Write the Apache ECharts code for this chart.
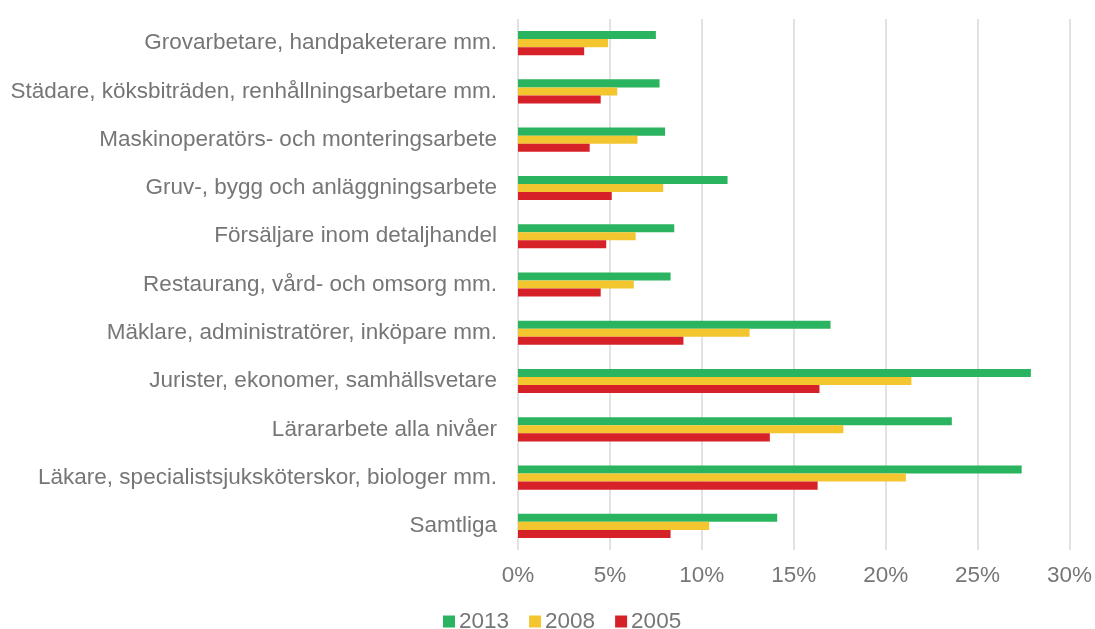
<!DOCTYPE html>
<html>
<head>
<meta charset="utf-8">
<script src="https://cdn.jsdelivr.net/npm/echarts@6/dist/echarts.min.js"></script>
<style>
html,body{margin:0;padding:0;background:#fff;}
#chart{width:1095px;height:629px;}
</style>
</head>
<body>
<div id="chart"></div>
<script>
var categories = [
  'Grovarbetare, handpaketerare mm.',
  'Städare, köksbiträden, renhållningsarbetare mm.',
  'Maskinoperatörs- och monteringsarbete',
  'Gruv-, bygg och anläggningsarbete',
  'Försäljare inom detaljhandel',
  'Restaurang, vård- och omsorg mm.',
  'Mäklare, administratörer, inköpare mm.',
  'Jurister, ekonomer, samhällsvetare',
  'Lärararbete alla nivåer',
  'Läkare, specialistsjuksköterskor, biologer mm.',
  'Samtliga'
];
var seriesNames = ['2013', '2008', '2005'];
var values2013 = [7.5, 7.7, 8.0, 11.4, 8.5, 8.3, 17.0, 27.9, 23.6, 27.4, 14.1];
var values2008 = [4.9, 5.4, 6.5, 7.9, 6.4, 6.3, 12.6, 21.4, 17.7, 21.1, 10.4];
var values2005 = [3.6, 4.5, 3.9, 5.1, 4.8, 4.5, 9.0, 16.4, 13.7, 16.3, 8.3];
var xTicks = [0, 5, 10, 15, 20, 25, 30];

var colors = ['#2bb45f', '#f3c52f', '#d62129'];
var textColor = '#767676';
var font = '"Liberation Sans", Arial, sans-serif';

var chart = echarts.init(document.getElementById('chart'), null, {renderer: 'canvas'});
var allValues = [values2013, values2008, values2005];
chart.setOption({
  animation: false,
  backgroundColor: '#ffffff',
  textStyle: {fontFamily: font},
  color: colors,
  legend: {
    data: seriesNames,
    bottom: -9,
    left: 438,
    itemWidth: 12,
    itemHeight: 12,
    itemGap: 20,
    icon: 'rect',
    textStyle: {color: textColor, fontSize: 22.5, fontFamily: font, padding: [0, 0, 0, -1]}
  },
  grid: {left: 518, right: 25, top: 19, bottom: 79, containLabel: false},
  xAxis: {
    type: 'value',
    min: xTicks[0],
    max: xTicks[xTicks.length - 1],
    interval: 5,
    axisLine: {show: false},
    axisTick: {show: false},
    splitLine: {show: true, lineStyle: {color: '#d9d9d9', width: 1.5}},
    axisLabel: {formatter: '{value}%', color: textColor, fontSize: 22.5, fontFamily: font, margin: 14}
  },
  yAxis: {
    type: 'category',
    data: categories,
    inverse: true,
    axisLine: {show: false},
    axisTick: {show: false},
    axisLabel: {color: textColor, fontSize: 22.5, fontFamily: font, margin: 21}
  },
  series: seriesNames.map(function (name, i) {
    return {
      name: name,
      type: 'bar',
      data: allValues[i],
      barGap: '0%',
      barCategoryGap: '50%',
      itemStyle: {color: colors[i]}
    };
  })
});
</script>
</body>
</html>
